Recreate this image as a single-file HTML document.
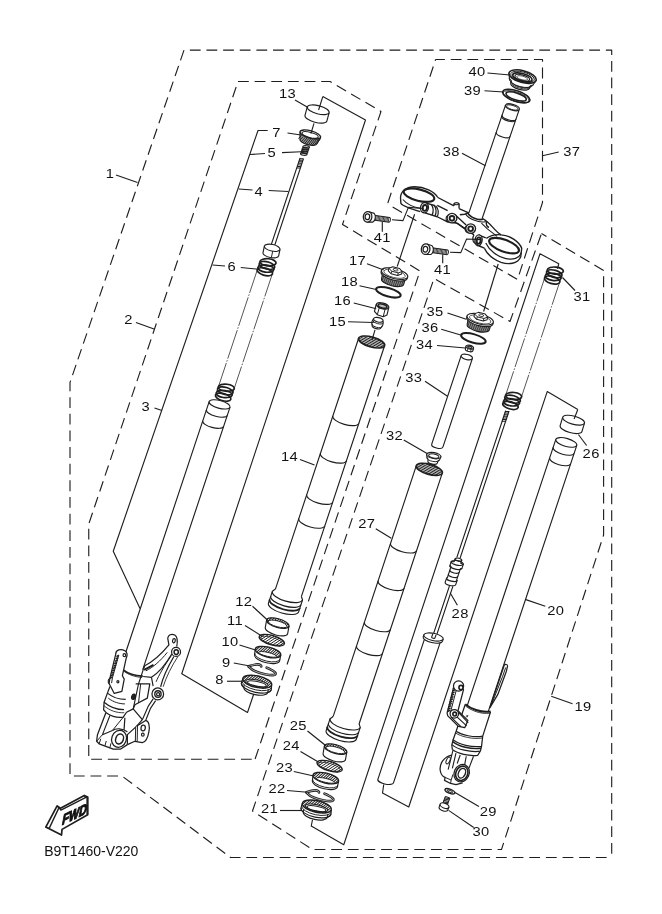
<!DOCTYPE html>
<html><head><meta charset="utf-8"><title>Front fork</title>
<style>
html,body{margin:0;padding:0;background:#fff;}
body{width:662px;height:914px;overflow:hidden;}
svg{display:block;will-change:transform;}
.t{font-family:"Liberation Sans",sans-serif;fill:#111;stroke:none;}
</style></head><body>
<svg width="662" height="914" viewBox="0 0 662 914">
<rect x="0" y="0" width="662" height="914" fill="#fff" stroke="none"/>
<g fill="none" stroke="#1e1e1e" stroke-linejoin="round" stroke-width="1.13">
<path d="M184,50.1 L611.7,50.1 L611.7,857.5" stroke-dasharray="10.8 5.84" stroke-dashoffset="10.8" stroke-width="1.13"/>
<path d="M184,50.1 L70,382.5 L70,776 L122,776 L230.5,857.5 L611.7,857.5" stroke-dasharray="10.8 5.84" stroke-dashoffset="0" stroke-width="1.13"/>
<path d="M238,81.5 L330,81.5 L381,111.5 L342.5,224.5 L420,271 L255,759.3" stroke-dasharray="10.8 5.84" stroke-dashoffset="0" stroke-width="1.13"/>
<path d="M238,81.5 L88.75,524 L88.75,759.3 L255,759.3" stroke-dasharray="10.8 5.84" stroke-dashoffset="10.8" stroke-width="1.13"/>
<path d="M435.6,59.5 L542.5,59.5 L542.5,202.5 L517.5,279.5 L387.5,204" stroke-dasharray="10.8 5.84" stroke-dashoffset="1.5" stroke-width="1.13"/>
<path d="M435.6,59.5 L387.5,204" stroke-dasharray="10.8 5.84" stroke-dashoffset="9.3" stroke-width="1.13"/>
<path d="M541.5,233.5 L603.6,270.4 L603.6,535 L501.5,849.5 L312.5,849.5 L252.5,811 L434,278.5 L510,321.5 Z" stroke-dasharray="10.8 5.84" stroke-dashoffset="5" stroke-width="1.13"/>
<path d="M322.8,96.6 L365.5,120 L181.75,673.75 L247.5,712.5 L253.75,694" stroke-width="1.13" />
<path d="M267.7,130.5 L258,130.5 L113.25,551.25 L140,608.5" stroke-width="1.13" />
<path d="M557.5,268.75 L558.75,263.75 L540,253.75 L343.75,844.75 L311.25,826 L312.5,819.75" stroke-width="1.13" />
<path d="M577.8,409.5 L547.2,391.6 L408.75,807 L382.5,793 L383.75,784.5" stroke-width="1.13" />
<g transform="translate(371.6 342.0) rotate(16) skewX(-2.35)"><path d="M-13.5,0 L-13.5,267 A13.5,5.0 0 0 0 13.5,267 L13.5,0" fill="#fff"/><ellipse cx="0" cy="0" rx="13.5" ry="5.0" stroke-width="1.69" fill="#fff"/><path d="M-4.47,-4.02 L8.79,-3.1 M-9.44,-2.87 L12.1,-1.36 M-11.9,-1.53 L12.9,0.2 M-12.87,-0.1 L12.21,1.66 M-12.4,1.44 L10.08,3.01 M-9.81,3.12 L5.82,4.22" stroke-width="0.9"/><path d="M-13.5,81.7 A13.5,5.0 0 0 0 13.5,81.7" stroke-width="1.13"/><path d="M-13.5,121.2 A13.5,5.0 0 0 0 13.5,121.2" stroke-width="1.13"/><path d="M-13.5,164.6 A13.5,5.0 0 0 0 13.5,164.6" stroke-width="1.13"/><path d="M-13.5,189.7 A13.5,5.0 0 0 0 13.5,189.7" stroke-width="1.13"/><path d="M-13.5,264 L-15.7,267 L-15.7,279.5 A15.7,5.814814814814815 0 0 0 15.7,279.5 L15.7,267 L13.5,264 Z" fill="#fff" stroke="none"/><path d="M-13.5,264 L-15.7,267 L-15.7,279.5 A15.7,5.814814814814815 0 0 0 15.7,279.5 L15.7,267 L13.5,264"/><path d="M-15.7,267 A15.7,5.814814814814815 0 0 0 15.7,267" stroke-width="1.13"/><path d="M-15.7,272 A15.7,5.814814814814815 0 0 0 15.7,272" stroke-width="1.13"/><path d="M-15.7,275.5 A15.7,5.814814814814815 0 0 0 15.7,275.5" stroke-width="1.81"/></g>
<g transform="translate(429.3 469.4) rotate(16) skewX(-2.35)"><path d="M-13.5,0 L-13.5,267 A13.5,5.0 0 0 0 13.5,267 L13.5,0" fill="#fff"/><ellipse cx="0" cy="0" rx="13.5" ry="5.0" stroke-width="1.69" fill="#fff"/><path d="M-4.47,-4.02 L8.79,-3.1 M-9.44,-2.87 L12.1,-1.36 M-11.9,-1.53 L12.9,0.2 M-12.87,-0.1 L12.21,1.66 M-12.4,1.44 L10.08,3.01 M-9.81,3.12 L5.82,4.22" stroke-width="0.9"/><path d="M-13.5,81.7 A13.5,5.0 0 0 0 13.5,81.7" stroke-width="1.13"/><path d="M-13.5,121.2 A13.5,5.0 0 0 0 13.5,121.2" stroke-width="1.13"/><path d="M-13.5,164.6 A13.5,5.0 0 0 0 13.5,164.6" stroke-width="1.13"/><path d="M-13.5,189.7 A13.5,5.0 0 0 0 13.5,189.7" stroke-width="1.13"/><path d="M-13.5,264 L-15.7,267 L-15.7,279.5 A15.7,5.814814814814815 0 0 0 15.7,279.5 L15.7,267 L13.5,264 Z" fill="#fff" stroke="none"/><path d="M-13.5,264 L-15.7,267 L-15.7,279.5 A15.7,5.814814814814815 0 0 0 15.7,279.5 L15.7,267 L13.5,264"/><path d="M-15.7,267 A15.7,5.814814814814815 0 0 0 15.7,267" stroke-width="1.13"/><path d="M-15.7,272 A15.7,5.814814814814815 0 0 0 15.7,272" stroke-width="1.13"/><path d="M-15.7,275.5 A15.7,5.814814814814815 0 0 0 15.7,275.5" stroke-width="1.81"/></g>
<g transform="translate(277.8 623.1) rotate(15) skewX(5)"><path d="M-11.6,0 L-11.6,7.6 A11.6,4.4 0 0 0 11.6,7.6 L11.6,0" fill="#fff"/><ellipse cx="0" cy="0" rx="11.6" ry="4.4" stroke-width="1.24" fill="#fff"/><path d="M-11.55,-0.42 L-10.58,-1.81 M-10.71,1.69 L-7.08,-3.48 M-9.11,2.72 L-4.35,-4.08 M-7.28,3.43 L-1.84,-4.34 M-5.3,3.91 L0.51,-4.4 M-3.21,4.23 L2.75,-4.27 M-0.99,4.38 L4.87,-3.99 M1.33,4.37 L6.88,-3.54 M3.8,4.16 L8.74,-2.89 M6.48,3.65 L10.4,-1.95 M9.64,2.45 L11.57,-0.31" stroke-width="0.96"/><ellipse cx="0" cy="0.8" rx="9.6" ry="2.9000000000000004" stroke-width="0.9" fill="#fff"/></g>
<g transform="translate(271.8 640.2) rotate(16.5)"><ellipse cx="0" cy="0" rx="13.1" ry="4.7" stroke-width="1.36" fill="#fff"/><path d="M-12.52,1.38 L-8.31,-3.63 M-10.74,2.69 L-4.82,-4.37 M-8.59,3.55 L-1.7,-4.66 M-6.21,4.14 L1.19,-4.68 M-3.66,4.51 L3.9,-4.49 M-0.93,4.69 L6.44,-4.09 M1.98,4.65 L8.8,-3.48 M5.12,4.33 L10.92,-2.59 M8.66,3.53 L12.65,-1.23" stroke-width="0.9"/><ellipse cx="0" cy="0.6" rx="11.2" ry="3.4" stroke-width="0.68" fill="none"/></g>
<g transform="translate(268.0 652.1) rotate(13) skewX(4)"><path d="M-13.1,0 L-12.9,5.6 A12.9,5.2 0 0 0 12.9,5.6 L13.1,0" fill="#fff"/><ellipse cx="0" cy="0" rx="13.1" ry="5.0" stroke-width="1.36" fill="#fff"/><path d="M-12.64,1.32 L-8.87,-3.68 M-11.21,2.58 L-5.9,-4.46 M-9.49,3.45 L-3.24,-4.85 M-7.58,4.08 L-0.75,-4.99 M-5.54,4.53 L1.61,-4.96 M-3.39,4.83 L3.85,-4.78 M-1.12,4.98 L5.98,-4.45 M1.26,4.98 L7.99,-3.96 M3.78,4.79 L9.87,-3.29 M6.49,4.34 L11.55,-2.36 M9.57,3.41 L12.86,-0.95" stroke-width="0.96"/><ellipse cx="0" cy="2.3" rx="9.2" ry="2.0" stroke-width="0.9" fill="#fff"/><path d="M-13.0,4.0 A13.0,5.1 0 0 0 13.0,4.0" stroke-width="0.9"/></g>
<path d="M248.6,666.3 C251.5,665.3 255.0,664.3 257.7,664.4 C260.0,664.5 261.5,665.3 261.2,666.4" stroke-width="2.6" stroke-linecap="round"/>
<path d="M249.0,666.8 C251.0,669.0 253.5,670.6 255.9,671.5 C259.0,672.8 262.0,673.6 264.9,674.2 C268.0,674.8 271.5,675.3 274.0,675.0 C276.0,674.6 276.0,673.4 275.0,672.4 C273.8,671.2 272.5,670.4 271.3,669.8 C270.0,669.1 268.5,668.3 266.7,667.7" stroke-width="2.6" stroke-linecap="round"/>
<path d="M248.6,666.3 C251.5,665.3 255.0,664.3 257.7,664.4 C260.0,664.5 261.5,665.3 261.2,666.4" stroke-width="0.62" stroke="#fff" stroke-linecap="round"/>
<path d="M249.0,666.8 C251.0,669.0 253.5,670.6 255.9,671.5 C259.0,672.8 262.0,673.6 264.9,674.2 C268.0,674.8 271.5,675.3 274.0,675.0 C276.0,674.6 276.0,673.4 275.0,672.4 C273.8,671.2 272.5,670.4 271.3,669.8 C270.0,669.1 268.5,668.3 266.7,667.7" stroke-width="0.62" stroke="#fff" stroke-linecap="round"/>
<g transform="translate(257.2 681.7) rotate(12) skewX(2)"><path d="M-14.8,0 L-15.3,4.6 A15.3,6.2 0 0 0 15.3,4.6 L14.8,0" fill="#fff"/><path d="M-12.3,5.5 L-12.3,8.3 A12.3,4.8 0 0 0 12.3,8.3 L12.3,5.5" fill="#fff"/><path d="M-15.3,4.6 A15.3,6.2 0 0 0 15.3,4.6" stroke-width="1.13"/><ellipse cx="0" cy="0" rx="14.8" ry="5.8" stroke-width="1.36" fill="#fff"/><path d="M-14.63,0.86 L-10.89,-3.93 M-13.44,2.43 L-7.67,-4.96 M-11.85,3.47 L-4.86,-5.48 M-10.05,4.26 L-2.25,-5.73 M-8.11,4.85 L0.22,-5.8 M-6.04,5.29 L2.56,-5.71 M-3.87,5.6 L4.79,-5.49 M-1.59,5.77 L6.92,-5.13 M0.81,5.79 L8.94,-4.62 M3.33,5.65 L10.83,-3.95 M6.01,5.3 L12.55,-3.07 M8.96,4.62 L14.02,-1.86 M12.59,3.05 L14.79,0.24" stroke-width="0.96"/><ellipse cx="0" cy="1.6" rx="11.4" ry="3.3" stroke-width="1.02" fill="#fff"/><ellipse cx="0" cy="2.1" rx="9.6" ry="2.3" stroke-width="1.13" fill="none"/><path d="M-15.1,2.3 A15.1,6.0 0 0 0 15.1,2.3" stroke-width="0.9"/></g>
<g transform="translate(335.6 749.1) rotate(15) skewX(5)"><path d="M-11.6,0 L-11.6,7.6 A11.6,4.4 0 0 0 11.6,7.6 L11.6,0" fill="#fff"/><ellipse cx="0" cy="0" rx="11.6" ry="4.4" stroke-width="1.24" fill="#fff"/><path d="M-11.55,-0.42 L-10.58,-1.81 M-10.71,1.69 L-7.08,-3.48 M-9.11,2.72 L-4.35,-4.08 M-7.28,3.43 L-1.84,-4.34 M-5.3,3.91 L0.51,-4.4 M-3.21,4.23 L2.75,-4.27 M-0.99,4.38 L4.87,-3.99 M1.33,4.37 L6.88,-3.54 M3.8,4.16 L8.74,-2.89 M6.48,3.65 L10.4,-1.95 M9.64,2.45 L11.57,-0.31" stroke-width="0.96"/><ellipse cx="0" cy="0.8" rx="9.6" ry="2.9000000000000004" stroke-width="0.9" fill="#fff"/></g>
<g transform="translate(329.6 766.2) rotate(16.5)"><ellipse cx="0" cy="0" rx="13.1" ry="4.7" stroke-width="1.36" fill="#fff"/><path d="M-12.52,1.38 L-8.31,-3.63 M-10.74,2.69 L-4.82,-4.37 M-8.59,3.55 L-1.7,-4.66 M-6.21,4.14 L1.19,-4.68 M-3.66,4.51 L3.9,-4.49 M-0.93,4.69 L6.44,-4.09 M1.98,4.65 L8.8,-3.48 M5.12,4.33 L10.92,-2.59 M8.66,3.53 L12.65,-1.23" stroke-width="0.9"/><ellipse cx="0" cy="0.6" rx="11.2" ry="3.4" stroke-width="0.68" fill="none"/></g>
<g transform="translate(325.8 778.1) rotate(13) skewX(4)"><path d="M-13.1,0 L-12.9,5.6 A12.9,5.2 0 0 0 12.9,5.6 L13.1,0" fill="#fff"/><ellipse cx="0" cy="0" rx="13.1" ry="5.0" stroke-width="1.36" fill="#fff"/><path d="M-12.64,1.32 L-8.87,-3.68 M-11.21,2.58 L-5.9,-4.46 M-9.49,3.45 L-3.24,-4.85 M-7.58,4.08 L-0.75,-4.99 M-5.54,4.53 L1.61,-4.96 M-3.39,4.83 L3.85,-4.78 M-1.12,4.98 L5.98,-4.45 M1.26,4.98 L7.99,-3.96 M3.78,4.79 L9.87,-3.29 M6.49,4.34 L11.55,-2.36 M9.57,3.41 L12.86,-0.95" stroke-width="0.96"/><ellipse cx="0" cy="2.3" rx="9.2" ry="2.0" stroke-width="0.9" fill="#fff"/><path d="M-13.0,4.0 A13.0,5.1 0 0 0 13.0,4.0" stroke-width="0.9"/></g>
<path d="M306.4,792.3 C309.3,791.3 312.8,790.3 315.5,790.4 C317.8,790.5 319.3,791.3 319.0,792.4" stroke-width="2.6" stroke-linecap="round"/>
<path d="M306.8,792.8 C308.8,795.0 311.3,796.6 313.7,797.5 C316.8,798.8 319.8,799.6 322.7,800.2 C325.8,800.8 329.3,801.3 331.8,801.0 C333.8,800.6 333.8,799.4 332.8,798.4 C331.6,797.2 330.3,796.4 329.1,795.8 C327.8,795.1 326.3,794.3 324.5,793.7" stroke-width="2.6" stroke-linecap="round"/>
<path d="M306.4,792.3 C309.3,791.3 312.8,790.3 315.5,790.4 C317.8,790.5 319.3,791.3 319.0,792.4" stroke-width="0.62" stroke="#fff" stroke-linecap="round"/>
<path d="M306.8,792.8 C308.8,795.0 311.3,796.6 313.7,797.5 C316.8,798.8 319.8,799.6 322.7,800.2 C325.8,800.8 329.3,801.3 331.8,801.0 C333.8,800.6 333.8,799.4 332.8,798.4 C331.6,797.2 330.3,796.4 329.1,795.8 C327.8,795.1 326.3,794.3 324.5,793.7" stroke-width="0.62" stroke="#fff" stroke-linecap="round"/>
<g transform="translate(316.8 806.5) rotate(12) skewX(2)"><path d="M-14.8,0 L-15.3,4.6 A15.3,6.2 0 0 0 15.3,4.6 L14.8,0" fill="#fff"/><path d="M-12.3,5.5 L-12.3,8.3 A12.3,4.8 0 0 0 12.3,8.3 L12.3,5.5" fill="#fff"/><path d="M-15.3,4.6 A15.3,6.2 0 0 0 15.3,4.6" stroke-width="1.13"/><ellipse cx="0" cy="0" rx="14.8" ry="5.8" stroke-width="1.36" fill="#fff"/><path d="M-14.63,0.86 L-10.89,-3.93 M-13.44,2.43 L-7.67,-4.96 M-11.85,3.47 L-4.86,-5.48 M-10.05,4.26 L-2.25,-5.73 M-8.11,4.85 L0.22,-5.8 M-6.04,5.29 L2.56,-5.71 M-3.87,5.6 L4.79,-5.49 M-1.59,5.77 L6.92,-5.13 M0.81,5.79 L8.94,-4.62 M3.33,5.65 L10.83,-3.95 M6.01,5.3 L12.55,-3.07 M8.96,4.62 L14.02,-1.86 M12.59,3.05 L14.79,0.24" stroke-width="0.96"/><ellipse cx="0" cy="1.6" rx="11.4" ry="3.3" stroke-width="1.02" fill="#fff"/><ellipse cx="0" cy="2.1" rx="9.6" ry="2.3" stroke-width="1.13" fill="none"/><path d="M-15.1,2.3 A15.1,6.0 0 0 0 15.1,2.3" stroke-width="0.9"/></g>
<g transform="translate(318.2 109.8) rotate(14.6) skewX(-0.4)"><path d="M-11.3,0 L-11.3,8.8 A11.3,4.1 0 0 0 11.3,8.8 L11.3,0" fill="#fff" stroke-width="1.13"/><ellipse cx="0" cy="0" rx="11.3" ry="4.1" stroke-width="1.13" fill="#fff"/></g>
<path d="M318.6,110 L322.8,96.6" stroke-width="1.13" />
<g transform="translate(573.6 420.2) rotate(15.5) skewX(-1.5)"><path d="M-11.3,0 L-11.3,8.8 A11.3,4.1 0 0 0 11.3,8.8 L11.3,0" fill="#fff" stroke-width="1.13"/><ellipse cx="0" cy="0" rx="11.3" ry="4.1" stroke-width="1.13" fill="#fff"/></g>
<path d="M574.1,419 L577.8,409.5" stroke-width="1.13" />
<g transform="translate(310.3 134.5) rotate(15.6)"><path d="M-10.6,0 L-8.8,7.2 A8.8,3.3 0 0 0 8.8,7.2 L10.6,0" fill="#9a9a9a"/><path d="M-8.0,3.230571751412325 L-10.4,7.0" stroke-width="0.9"/><path d="M-6.1,3.7805937627048847 L-8.5,7.828420781810512" stroke-width="0.9"/><path d="M-4.199999999999999,4.121719638190784 L-6.6,9.116601048851672" stroke-width="0.9"/><path d="M-2.3,4.318997712716405 L-4.7,9.70536656748449" stroke-width="0.9"/><path d="M-0.3999999999999999,4.397578347271111 L-2.8,10.033695071216613" stroke-width="0.9"/><path d="M1.5,4.365785484244695 L-0.9,10.183220470213062" stroke-width="0.9"/><path d="M3.4,4.220351800244366 L0.9999999999999999,10.179271708275548" stroke-width="0.9"/><path d="M5.3,3.9444863728670914 L2.9,10.021247074354815" stroke-width="0.9"/><path d="M7.199999999999999,3.495298534031731 L4.799999999999999,9.682049296667023" stroke-width="0.9"/><path d="M9.1,2.743619809235902 L6.699999999999999,9.074640265541223" stroke-width="0.9"/><path d="M11.0,1.0 L8.6,7.678354840224642" stroke-width="0.9"/><ellipse cx="0" cy="0" rx="10.6" ry="3.7" stroke-width="1.36" fill="#fff"/><ellipse cx="0" cy="0.5" rx="8.4" ry="2.6" stroke-width="1.02" fill="none"/></g>
<path d="M314,123.3 L310.9,133.6" stroke-width="1.13" />
<g transform="translate(306.4 146.2) rotate(13) skewX(-5.4)"><rect x="-3.3" y="0" width="6.6" height="8.8" fill="#fff" stroke="none"/><ellipse cx="0" cy="0.8" rx="3.3" ry="1.3" stroke-width="1.13" transform="rotate(-6 0 0.8)"/><ellipse cx="0" cy="2.6500000000000004" rx="3.3" ry="1.3" stroke-width="1.13" transform="rotate(-6 0 2.6500000000000004)"/><ellipse cx="0" cy="4.5" rx="3.3" ry="1.3" stroke-width="1.13" transform="rotate(-6 0 4.5)"/><ellipse cx="0" cy="6.3500000000000005" rx="3.3" ry="1.3" stroke-width="1.13" transform="rotate(-6 0 6.3500000000000005)"/><ellipse cx="0" cy="8.200000000000001" rx="3.3" ry="1.3" stroke-width="1.13" transform="rotate(-6 0 8.200000000000001)"/></g>
<g transform="translate(301.8 158.3) rotate(13) skewX(-5.4)"><path d="M-1.75,0 L-1.75,93 M1.75,0 L1.75,93" /><path d="M-1.7,0.8999999999999999 L1.7,0.09999999999999998" stroke-width="1.02"/><path d="M-1.7,2.5 L1.7,1.7000000000000002" stroke-width="1.02"/><path d="M-1.7,4.1 L1.7,3.3" stroke-width="1.02"/><path d="M-1.7,5.7 L1.7,4.9" stroke-width="1.02"/><path d="M-1.7,7.3 L1.7,6.5" stroke-width="1.02"/><path d="M-1.7,8.9 L1.7,8.100000000000001" stroke-width="1.02"/><path d="M-1.7,10.500000000000002 L1.7,9.700000000000003" stroke-width="1.02"/></g>
<g transform="translate(272.2 247.8) rotate(12)"><path d="M-8,0 L-8,6.6 A8,3.3 0 0 0 8,6.6 L8,0" fill="#fff"/><ellipse cx="0" cy="0" rx="8" ry="3.3" stroke-width="1.13" fill="#fff"/><path d="M1.2,3.2 L1.2,9.6" stroke-width="0.9"/></g>
<g transform="translate(268.0 262.3) rotate(13) skewX(-5.4)"><path d="M-7.8,0 L-7.8,141.5 L7.8,141.5 L7.8,0 Z" fill="#fff" stroke="none"/><path d="M-7.8,4 L-7.8,137.5 M7.8,4 L7.8,137.5" stroke-width="0.68" stroke-dasharray="30 1.5 1.5 1.5"/><g><ellipse cx="0" cy="0.0" rx="8.0" ry="3.6" stroke-width="1.69" transform="rotate(-7 0 0.0)"/><ellipse cx="0" cy="3.3" rx="8.0" ry="3.6" stroke-width="1.69" transform="rotate(3 0 3.3)"/><ellipse cx="0" cy="6.6" rx="8.0" ry="3.6" stroke-width="1.69" transform="rotate(-5 0 6.6)"/><ellipse cx="0" cy="9.899999999999999" rx="8.0" ry="3.6" stroke-width="1.69" transform="rotate(4 0 9.899999999999999)"/></g><g transform="translate(0 131.6)"><ellipse cx="0" cy="0.0" rx="8.0" ry="3.6" stroke-width="1.69" transform="rotate(-7 0 0.0)"/><ellipse cx="0" cy="3.3" rx="8.0" ry="3.6" stroke-width="1.69" transform="rotate(3 0 3.3)"/><ellipse cx="0" cy="6.6" rx="8.0" ry="3.6" stroke-width="1.69" transform="rotate(-5 0 6.6)"/><ellipse cx="0" cy="9.899999999999999" rx="8.0" ry="3.6" stroke-width="1.69" transform="rotate(4 0 9.899999999999999)"/></g></g>
<g transform="translate(555.3 270.6) rotate(13) skewX(-5.4)"><path d="M-7.8,0 L-7.8,141.5 L7.8,141.5 L7.8,0 Z" fill="#fff" stroke="none"/><path d="M-7.8,4 L-7.8,137.5 M7.8,4 L7.8,137.5" stroke-width="0.68" stroke-dasharray="30 1.5 1.5 1.5"/><g><ellipse cx="0" cy="0.0" rx="8.0" ry="3.6" stroke-width="1.69" transform="rotate(-7 0 0.0)"/><ellipse cx="0" cy="3.3" rx="8.0" ry="3.6" stroke-width="1.69" transform="rotate(3 0 3.3)"/><ellipse cx="0" cy="6.6" rx="8.0" ry="3.6" stroke-width="1.69" transform="rotate(-5 0 6.6)"/><ellipse cx="0" cy="9.899999999999999" rx="8.0" ry="3.6" stroke-width="1.69" transform="rotate(4 0 9.899999999999999)"/></g><g transform="translate(0 131.6)"><ellipse cx="0" cy="0.0" rx="8.0" ry="3.6" stroke-width="1.69" transform="rotate(-7 0 0.0)"/><ellipse cx="0" cy="3.3" rx="8.0" ry="3.6" stroke-width="1.69" transform="rotate(3 0 3.3)"/><ellipse cx="0" cy="6.6" rx="8.0" ry="3.6" stroke-width="1.69" transform="rotate(-5 0 6.6)"/><ellipse cx="0" cy="9.899999999999999" rx="8.0" ry="3.6" stroke-width="1.69" transform="rotate(4 0 9.899999999999999)"/></g></g>
<g transform="translate(219.6 404.4) rotate(15) skewX(-3.4)"><path d="M-10.8,0 L-10.8,290 A10.8,3.9 0 0 0 10.8,290 L10.8,0" fill="#fff"/><ellipse cx="0" cy="0" rx="10.8" ry="3.9" stroke-width="1.13" fill="#fff"/><path d="M-10.8,8.6 A10.8,3.9 0 0 0 10.8,8.6" stroke-width="1.13"/><path d="M-10.8,20.3 A10.8,3.9 0 0 0 10.8,20.3" stroke-width="1.13"/></g>
<g transform="translate(566.3 442.4) rotate(16) skewX(-2.4)"><path d="M-10.9,0 L-10.9,284 A10.9,4 0 0 0 10.9,284 L10.9,0" fill="#fff"/><ellipse cx="0" cy="0" rx="10.9" ry="4" stroke-width="1.13" fill="#fff"/><path d="M-10.9,8.4 A10.9,4 0 0 0 10.9,8.4" stroke-width="1.13"/><path d="M-10.9,19.5 A10.9,4 0 0 0 10.9,19.5" stroke-width="1.13"/></g>
<g transform="translate(394.6 273.6) rotate(14)"><path d="M-11.8,1 L-11.4,8.2 A11.4,4.3 0 0 0 11.4,8.2 L11.8,1 Z" fill="#8a8a8a" stroke-width="1.13"/><path d="M-9.5,3 L-10.5,10.120551885390036" stroke-width="0.68"/><path d="M-7.5,3 L-8.5,11.049675860245186" stroke-width="0.68"/><path d="M-5.5,3 L-6.5,11.601156720295474" stroke-width="0.68"/><path d="M-3.5,3 L-4.5,11.945685935461759" stroke-width="0.68"/><path d="M-1.5,3 L-2.5,12.137961500799495" stroke-width="0.68"/><path d="M0.5,3 L-0.5,12.2" stroke-width="0.68"/><path d="M2.5,3 L1.5,12.137961500799495" stroke-width="0.68"/><path d="M4.5,3 L3.5,11.945685935461759" stroke-width="0.68"/><path d="M6.5,3 L5.5,11.601156720295474" stroke-width="0.68"/><path d="M8.5,3 L7.5,11.049675860245186" stroke-width="0.68"/><path d="M10.5,3 L9.5,10.120551885390036" stroke-width="0.68"/><path d="M-13.5,0 L-13.5,1.6 A13.5,5 0 0 0 13.5,1.6 L13.5,0 Z" fill="#fff"/><ellipse cx="0" cy="0" rx="13.5" ry="5" stroke-width="1.13" fill="#fff"/><ellipse cx="0" cy="0.2" rx="11" ry="3.8" stroke-width="0.68" fill="none"/><path d="M-6.8,-1.2 L-6.8,-3.8 L-3.4,-6.2 L3.6,-6.2 L6.8,-3.8 L6.8,-1.2 L3.4,1.0 L-3.4,1.0 Z" fill="#fff" stroke-width="1.02"/><path d="M-6.8,-3.8 L-3.4,-1.6 L3.4,-1.6 L6.8,-3.8 M-3.4,-1.6 L-3.4,1 M3.4,-1.6 L3.4,1" stroke-width="0.9"/><ellipse cx="0" cy="-4" rx="2.6" ry="1.1" stroke-width="0.79" fill="none"/></g>
<g transform="translate(480.2 319.2) rotate(14)"><path d="M-11.8,1 L-11.4,8.2 A11.4,4.3 0 0 0 11.4,8.2 L11.8,1 Z" fill="#8a8a8a" stroke-width="1.13"/><path d="M-9.5,3 L-10.5,10.120551885390036" stroke-width="0.68"/><path d="M-7.5,3 L-8.5,11.049675860245186" stroke-width="0.68"/><path d="M-5.5,3 L-6.5,11.601156720295474" stroke-width="0.68"/><path d="M-3.5,3 L-4.5,11.945685935461759" stroke-width="0.68"/><path d="M-1.5,3 L-2.5,12.137961500799495" stroke-width="0.68"/><path d="M0.5,3 L-0.5,12.2" stroke-width="0.68"/><path d="M2.5,3 L1.5,12.137961500799495" stroke-width="0.68"/><path d="M4.5,3 L3.5,11.945685935461759" stroke-width="0.68"/><path d="M6.5,3 L5.5,11.601156720295474" stroke-width="0.68"/><path d="M8.5,3 L7.5,11.049675860245186" stroke-width="0.68"/><path d="M10.5,3 L9.5,10.120551885390036" stroke-width="0.68"/><path d="M-13.5,0 L-13.5,1.6 A13.5,5 0 0 0 13.5,1.6 L13.5,0 Z" fill="#fff"/><ellipse cx="0" cy="0" rx="13.5" ry="5" stroke-width="1.13" fill="#fff"/><ellipse cx="0" cy="0.2" rx="11" ry="3.8" stroke-width="0.68" fill="none"/><path d="M-6.8,-1.2 L-6.8,-3.8 L-3.4,-6.2 L3.6,-6.2 L6.8,-3.8 L6.8,-1.2 L3.4,1.0 L-3.4,1.0 Z" fill="#fff" stroke-width="1.02"/><path d="M-6.8,-3.8 L-3.4,-1.6 L3.4,-1.6 L6.8,-3.8 M-3.4,-1.6 L-3.4,1 M3.4,-1.6 L3.4,1" stroke-width="0.9"/><ellipse cx="0" cy="-4" rx="2.6" ry="1.1" stroke-width="0.79" fill="none"/></g>
<path d="M414.6,214.2 L397.2,266.5" stroke-width="1.13" />
<path d="M498.2,264 L483.6,311.5" stroke-width="1.13" />
<g transform="translate(388.4 292.3) rotate(15.8)"><ellipse cx="0" cy="0" rx="12.7" ry="4.2" stroke-width="2.03" fill="none"/></g>
<g transform="translate(473.4 338.4) rotate(15.8)"><ellipse cx="0" cy="0" rx="12.7" ry="4.2" stroke-width="2.03" fill="none"/></g>
<g transform="translate(382.6 305.9) rotate(14)"><path d="M-6.6,0.2 L-6.6,7.2 L-3,9.8 L3.2,10.4 L6.4,7.8 L6.4,0.4 Z" fill="#fff"/><path d="M-2.8,2.7 L-3,9.8 M3.2,2.9 L3.2,10.4" stroke-width="0.9"/><ellipse cx="0" cy="0" rx="6.4" ry="2.9" stroke-width="1.13" fill="#fff"/><ellipse cx="0" cy="0.2" rx="4.6" ry="1.9" stroke-width="1.58" fill="#bbb"/></g>
<g transform="translate(378.3 319.8) rotate(14)"><path d="M-4.8,0 C-5.8,2 -5.8,5 -4.6,7 A4.6,2.1 0 0 0 4.6,7 C5.8,5 5.8,2 4.8,0 Z" fill="#fff"/><ellipse cx="0" cy="0" rx="4.8" ry="2.2" stroke-width="1.13" fill="#fff"/><path d="M-5.2,1.6 A5.2,2.3 0 0 0 5.2,1.6" stroke-width="0.9"/><path d="M-5.1,5.4 A5.1,2.3 0 0 0 5.1,5.4" stroke-width="0.9"/></g>
<path d="M375,329.8 L372,340" stroke-width="1.13" />
<g transform="translate(469.8 347.2) rotate(14)"><path d="M-3.9,0 L-3.9,2.6 A3.9,1.9 0 0 0 3.9,2.6 L3.9,0 Z" fill="#fff"/><ellipse cx="0" cy="0" rx="3.9" ry="1.9" stroke-width="1.13" fill="#fff"/><ellipse cx="0" cy="0.1" rx="2.2" ry="1.0" stroke-width="1.13" fill="#aaa"/><path d="M-1.5,1.8 L-1.5,4.3 M1.8,1.8 L1.8,4.3" stroke-width="0.79"/></g>
<g transform="translate(466.8 357) rotate(14) skewX(-4.4)"><path d="M-5.8,0 L-5.8,93 A5.8,2.6 0 0 0 5.8,93 L5.8,0" fill="#fff"/><ellipse cx="0" cy="0" rx="5.8" ry="2.6" stroke-width="1.13" fill="#fff"/></g>
<g transform="translate(433.8 455.6) rotate(10)"><path d="M-7.2,0 L-6.4,3.2 L-5,4.6 L-4.8,6.6 A4.8,2 0 0 0 4.8,6.6 L5,4.6 L6.4,3.2 L7.2,0 Z" fill="#fff"/><ellipse cx="0" cy="0" rx="7.2" ry="3.0" stroke-width="1.13" fill="#fff"/><ellipse cx="0" cy="0.4" rx="5.2" ry="2" stroke-width="1.02" fill="none"/><path d="M-6.4,3.2 A6.4,2.7 0 0 0 6.4,3.2" stroke-width="0.9"/></g>
<g transform="translate(512.4 107.3) rotate(17) skewX(-1.8)"><path d="M-7.2,0 L-7.2,116 A7.2,2.9 0 0 0 7.2,116 L7.2,0" fill="#fff"/><ellipse cx="0" cy="0" rx="7.2" ry="2.9" stroke-width="1.13" fill="#fff"/><ellipse cx="0" cy="0.2" rx="6.0" ry="2.1" stroke-width="0.9" fill="none"/><path d="M-7.2,10.2 A7.2,2.9 0 0 0 7.2,10.2" stroke-width="1.13"/><path d="M-7.2,11.4 A7.2,2.9 0 0 0 7.2,11.4" stroke-width="1.13"/><path d="M-7.2,28.4 A7.2,2.9 0 0 0 7.2,28.4" stroke-width="1.13"/></g>
<g transform="translate(516.3 96) rotate(18)"><ellipse cx="0" cy="0" rx="14.2" ry="5.3" stroke-width="1.58" fill="#fff"/><ellipse cx="0" cy="0.5" rx="10.6" ry="3.5" stroke-width="1.58" fill="none"/><ellipse cx="0" cy="0.9" rx="13.6" ry="4.8" stroke-width="0.79" fill="none"/></g>
<g transform="translate(522.6 76.6) rotate(15)"><path d="M-14,0 L-12.2,5.4 L-10,6.8 L-9.8,9.4 A9.8,3.8 0 0 0 9.8,9.4 L10,6.8 L12.2,5.4 L14,0 Z" fill="#fff"/><path d="M-12.4,5.2 A12.4,5.1 0 0 0 12.4,5.2" stroke-width="0.9"/><path d="M-10.1,6.8 A10.1,4.0 0 0 0 10.1,6.8" stroke-width="0.9"/><path d="M-10.0,8.0 A10.0,3.9 0 0 0 10.0,8.0" stroke-width="0.79"/><ellipse cx="0" cy="0" rx="14" ry="5.9" stroke-width="1.58" fill="#fff"/><ellipse cx="0" cy="0.3" rx="12.2" ry="4.9" stroke-width="0.9" fill="none"/><ellipse cx="0" cy="0.8" rx="10.0" ry="3.8" stroke-width="1.69" fill="none"/><ellipse cx="0" cy="1.2" rx="7.6" ry="2.7" stroke-width="1.13" fill="none"/><ellipse cx="0" cy="1.4" rx="5.6" ry="1.8" stroke-width="0.68" fill="none"/></g>
<path d="M 400.5,197.5 C 400.89,190.63 406.79,186.7 414.65,186.7 C 424.47,186.7 434.29,191.61 437.83,197.5 L 453.94,205.95 L 453.94,203.4 L 459.05,203.4 L 459.05,208.51 L 468.67,212.83 L 483.41,219.12 C 489.3,221.47 495.2,231.89 501.09,234.83 C 510.91,235.23 519.75,242.69 521.72,248.19 L 520.74,256.84 C 517.79,264.3 507.97,264.7 501.09,262.34 C 493.23,259.39 487.34,254.48 484.39,248.19 L 481.44,247.01 L 474.57,243.08 L 473.98,234.83 L 462.78,227.37 L 457.87,223.44 L 446.47,221.47 L 437.24,216.76 L 428.4,217.15 L 420.15,212.04 C 408.75,208.31 402.86,206.35 400.89,203.4 Z" stroke-width="0" fill="#fff"/>
<path d="M 437.83,197.5 C 434.29,191.61 424.47,186.7 414.65,186.7 C 406.79,186.7 400.89,190.63 400.5,197.5 L 400.89,203.4 C 402.86,206.35 408.75,208.31 420.15,211.65" stroke-width="1.36" fill="none"/>
<ellipse cx="418.97" cy="195.15" rx="15.72" ry="5.7" transform="rotate(14 418.97 195.15)" stroke-width="2.17" fill="#fff"/>
<path d="M 402.86,199.47 C 406.79,204.38 414.65,207.33 421.52,208.51" stroke-width="1.08" fill="none"/>
<path d="M 424.47,202.61 L 435.28,205.76 M 424.86,212.83 L 437.24,216.76" stroke-width="1.36" fill="none"/>
<ellipse cx="424.47" cy="207.72" rx="3.93" ry="5.11" transform="rotate(8 424.47 207.72)" stroke-width="1.36" fill="#fff"/>
<ellipse cx="424.86" cy="207.92" rx="2.16" ry="2.95" transform="rotate(8 424.86 207.92)" stroke-width="1.9" fill="#fff"/>
<path d="M 431.35,204.58 C 433.51,207.33 433.9,212.24 431.94,215.19 M 434.29,205.56 C 436.45,208.31 436.65,213.22 434.88,215.97 M 435.86,205.95 C 438.61,209.29 438.61,213.61 437.24,216.76" stroke-width="1.22" fill="none"/>
<path d="M 437.83,197.5 L 453.94,205.95 M 459.05,208.51 L 468.67,212.83" stroke-width="1.36" fill="none"/>
<path d="M 437.24,205.36 L 447.65,210.67 M 455.9,215.58 L 466.12,225.01 M 453.94,221.47 L 465.73,228.94" stroke-width="1.36" fill="none"/>
<path d="M 437.24,216.76 L 446.47,221.47 L 457.87,223.44 L 462.78,227.37 L 473.98,234.83" stroke-width="1.36" fill="none"/>
<path d="M 453.94,205.95 L 453.94,203.79 C 454.72,202.22 458.26,202.22 459.05,203.79 L 459.05,208.51" stroke-width="1.36" fill="#fff"/>
<path d="M 453.94,203.79 C 455.12,204.97 457.87,204.97 459.05,203.79" stroke-width="1.08" fill="none"/>
<ellipse cx="451.97" cy="218.13" rx="4.91" ry="4.72" transform="rotate(0 451.97 218.13)" stroke-width="1.36" fill="#fff"/>
<ellipse cx="451.97" cy="218.33" rx="2.36" ry="2.36" transform="rotate(0 451.97 218.33)" stroke-width="1.9" fill="#fff"/>
<ellipse cx="470.64" cy="228.55" rx="4.91" ry="4.72" transform="rotate(0 470.64 228.55)" stroke-width="1.36" fill="#fff"/>
<ellipse cx="470.64" cy="228.74" rx="2.36" ry="2.36" transform="rotate(0 470.64 228.74)" stroke-width="1.9" fill="#fff"/>
<path d="M 447.65,215.58 C 445.1,217.15 445.69,221.47 448.44,222.26 M 466.12,226.19 C 464.16,228.15 464.94,231.69 467.69,232.87" stroke-width="1.08" fill="none"/>
<path d="M 467.3,212.04 C 469.66,217.15 478.5,221.47 483.8,218.72" stroke-width="1.63" fill="none"/>
<path d="M 465.33,213.61 C 468.67,219.12 479.48,223.44 485.77,221.47" stroke-width="1.08" fill="none"/>
<path d="M 468.67,212.83 L 464.74,214.2 L 459.83,214.79 M 483.41,219.12 C 489.3,221.47 495.2,231.89 501.09,234.83" stroke-width="1.36" fill="none"/>
<path d="M 486.55,221.47 C 485.77,224.03 486.94,226.58 488.91,227.37" stroke-width="1.63" fill="none"/>
<path d="M 481.44,223.05 L 487.34,228.94 L 497.16,236.4" stroke-width="1.08" fill="none"/>
<path d="M 478.5,234.83 L 485.77,237.78 M 479.09,245.83 L 484.39,248.19" stroke-width="1.36" fill="none"/>
<ellipse cx="478.5" cy="240.33" rx="3.54" ry="5.5" transform="rotate(8 478.5 240.33)" stroke-width="1.36" fill="#fff"/>
<ellipse cx="478.69" cy="240.53" rx="1.96" ry="3.14" transform="rotate(8 478.69 240.53)" stroke-width="1.9" fill="#fff"/>
<path d="M 473.98,234.83 C 472.01,237.78 472.6,241.71 474.57,243.08 M 481.44,247.01 L 474.57,243.08" stroke-width="1.22" fill="none"/>
<path d="M 486.36,238.37 C 491.27,234.83 497.16,234.44 501.09,234.83 C 510.91,235.23 519.75,242.69 521.72,248.19 L 520.74,256.84 C 517.79,264.3 507.97,264.7 501.09,262.34 C 493.23,259.39 487.34,254.48 484.39,248.19" stroke-width="1.36" fill="none"/>
<path d="M 485.77,243.08 C 489.3,250.55 497.16,256.44 505.02,258.41 C 512.88,260.37 519.75,258.41 521.33,252.51" stroke-width="1.22" fill="none"/>
<ellipse cx="504.04" cy="245.64" rx="15.72" ry="5.89" transform="rotate(20 504.04 245.64)" stroke-width="2.17" fill="#fff"/>
<g transform="translate(367.6 216.8) rotate(8)"><path d="M6,-2.4 L22,-2.4 C23.4,-1.5 23.4,1.5 22,2.4 L6,2.4 Z" fill="#fff" stroke-width="1.02"/><path d="M8.2,-2.4 L8.2,2.4" stroke-width="0.79"/><path d="M9.5,-2.4 L9.5,2.4" stroke-width="0.79"/><path d="M10.799999999999999,-2.4 L10.799999999999999,2.4" stroke-width="0.79"/><path d="M12.1,-2.4 L12.1,2.4" stroke-width="0.79"/><path d="M13.399999999999999,-2.4 L13.399999999999999,2.4" stroke-width="0.79"/><path d="M14.7,-2.4 L14.7,2.4" stroke-width="0.79"/><path d="M16.0,-2.4 L16.0,2.4" stroke-width="0.79"/><path d="M17.299999999999997,-2.4 L17.299999999999997,2.4" stroke-width="0.79"/><path d="M18.6,-2.4 L18.6,2.4" stroke-width="0.79"/><path d="M19.9,-2.4 L19.9,2.4" stroke-width="0.79"/><path d="M21.2,-2.4 L21.2,2.4" stroke-width="0.79"/><path d="M0.8,-5.3 L6,-4.3 C8.4,-2.5 8.4,2.5 6,4.5 L0.8,5.3 Z" fill="#fff"/><ellipse cx="0" cy="0" rx="4.3" ry="5.3" fill="#fff" stroke-width="1.24"/><ellipse cx="-0.2" cy="0" rx="2.3" ry="2.9" fill="#fff" stroke-width="1.24"/></g>
<g transform="translate(425.6 249.2) rotate(8)"><path d="M6,-2.4 L22,-2.4 C23.4,-1.5 23.4,1.5 22,2.4 L6,2.4 Z" fill="#fff" stroke-width="1.02"/><path d="M8.2,-2.4 L8.2,2.4" stroke-width="0.79"/><path d="M9.5,-2.4 L9.5,2.4" stroke-width="0.79"/><path d="M10.799999999999999,-2.4 L10.799999999999999,2.4" stroke-width="0.79"/><path d="M12.1,-2.4 L12.1,2.4" stroke-width="0.79"/><path d="M13.399999999999999,-2.4 L13.399999999999999,2.4" stroke-width="0.79"/><path d="M14.7,-2.4 L14.7,2.4" stroke-width="0.79"/><path d="M16.0,-2.4 L16.0,2.4" stroke-width="0.79"/><path d="M17.299999999999997,-2.4 L17.299999999999997,2.4" stroke-width="0.79"/><path d="M18.6,-2.4 L18.6,2.4" stroke-width="0.79"/><path d="M19.9,-2.4 L19.9,2.4" stroke-width="0.79"/><path d="M21.2,-2.4 L21.2,2.4" stroke-width="0.79"/><path d="M0.8,-5.3 L6,-4.3 C8.4,-2.5 8.4,2.5 6,4.5 L0.8,5.3 Z" fill="#fff"/><ellipse cx="0" cy="0" rx="4.3" ry="5.3" fill="#fff" stroke-width="1.24"/><ellipse cx="-0.2" cy="0" rx="2.3" ry="2.9" fill="#fff" stroke-width="1.24"/></g>
<path d="M392,219.8 L403,220.6 L408.4,207.4 L423.5,208.5" stroke-width="1.13" />
<path d="M450,252.3 L460.8,252.6 L466.6,239 L480.5,239.6" stroke-width="1.13" />
<g transform="translate(507.3 411) rotate(13) skewX(-5.4)"><path d="M-1.65,0 L-1.65,154 M1.65,0 L1.65,154"/><path d="M-2.1,1.0 L2.1,0.0" stroke-width="1.02"/><path d="M-2.1,2.7 L2.1,1.7" stroke-width="1.02"/><path d="M-2.1,4.3999999999999995 L2.1,3.4" stroke-width="1.02"/><path d="M-2.1,6.1 L2.1,5.1" stroke-width="1.02"/><path d="M-2.1,7.8 L2.1,6.8" stroke-width="1.02"/><path d="M-2.1,9.5 L2.1,8.5" stroke-width="1.02"/><path d="M-2.1,11.2 L2.1,10.2" stroke-width="1.02"/></g>
<g transform="translate(458.4 559.6) rotate(13) skewX(-5.4)"><path d="M-3.4,0 L-3.4,3 L-6.2,3.6 L-6.2,7.6 L-4.8,8.6 L-4.8,20 L-5.4,20.6 L-5.4,25 A5.4,2.2 0 0 0 5.4,25 L5.4,20.6 L4.8,20 L4.8,8.6 L6.2,7.6 L6.2,3.6 L3.4,3 L3.4,0 Z" fill="#fff"/><ellipse cx="0" cy="0" rx="3.4" ry="1.4" stroke-width="1.13" fill="#fff"/><path d="M-6.2,3.4 A6.2,2.4 0 0 0 6.2,3.4" stroke-width="1.13"/><path d="M-6.2,7.6 A6.2,2.4 0 0 0 6.2,7.6" stroke-width="1.36"/><path d="M-4.8,12 A4.8,2 0 0 0 4.8,12" stroke-width="1.13"/><path d="M-4.8,16.5 A4.8,2 0 0 0 4.8,16.5" stroke-width="1.13"/><path d="M-5.4,20.4 A5.4,2.2 0 0 0 5.4,20.4" stroke-width="1.36"/><path d="M-6.2,3.6 A6.2,2.4 0 0 1 6.2,3.6" stroke-width="1.13"/></g>
<g transform="translate(451.2 586) rotate(13) skewX(-5.4)"><path d="M-1.7,0 L-1.7,52 M1.7,0 L1.7,52"/></g>
<g transform="translate(432.6 640) rotate(13) skewX(-5.4)"><path d="M-8,0 L-8,148 A8,3 0 0 0 8,148 L8,0" fill="#fff"/><ellipse display="none" cx="0" cy="0" rx="8" ry="3" stroke-width="1.13" fill="#fff"/></g>
<g transform="translate(433.5 637) rotate(13) skewX(-5.4)"><path d="M-9.9,0 L-9.9,2.2 A9.9,3.6 0 0 0 9.9,2.2 L9.9,0 Z" fill="#fff"/><ellipse cx="0" cy="0" rx="9.9" ry="3.6" stroke-width="1.13" fill="#fff"/><path d="M-1.7,-3 L-1.7,0.6 A1.7,0.7 0 0 0 1.7,0.6 L1.7,-3" fill="#fff"/></g>
<g transform="translate(449.9 791.3) rotate(20)"><ellipse cx="0" cy="0" rx="5.2" ry="2.0" stroke-width="1.47" fill="#fff"/><ellipse cx="0" cy="0" rx="3.0" ry="0.9" stroke-width="0.9" fill="none"/></g>
<g transform="translate(447.6 797.2) rotate(20)"><path d="M-2.4,0 L-2.4,9 L2.4,9 L2.4,0 Z" fill="#fff" stroke-width="0.9"/><path d="M-2.6,1.5 L2.6,0.7" stroke-width="1.02"/><path d="M-2.6,2.9 L2.6,2.1" stroke-width="1.02"/><path d="M-2.6,4.3 L2.6,3.5" stroke-width="1.02"/><path d="M-2.6,5.699999999999999 L2.6,4.8999999999999995" stroke-width="1.02"/><path d="M-2.6,7.1 L2.6,6.3" stroke-width="1.02"/><path d="M-2.6,8.5 L2.6,7.7" stroke-width="1.02"/><path d="M-4.6,9 L-4.6,12 A4.6,2.4 0 0 0 4.6,12 L4.6,9 Z" fill="#fff"/><ellipse cx="0" cy="9" rx="4.6" ry="2.4" stroke-width="1.13" fill="#fff"/></g>
<path d="M 123.22,669.52 L 109.93,686.47 L 107.43,693.11 L 104.11,702.25 L 103.61,709.73 L 105.77,713.05 L 97.46,734.66 L 96.63,741.3 L 99.12,743.8 L 113.25,749.11 L 120.73,749.11 L 127.37,744.63 L 134.85,741.3 L 142.33,742.63 C 145.65,742.13 147.81,737.98 148.97,731.33 C 149.81,726.35 148.97,720.53 145.65,720.53 L 153.13,701.42 C 159.78,701.42 164.43,697.27 163.43,691.45 C 163.1,688.96 161.44,688.13 160.61,686.47 C 163.1,676.5 168.08,666.53 175.56,656.89 C 181.38,655.73 181.71,648.25 178.05,646.59 L 176.72,646.59 C 177.72,641.6 177.22,636.62 174.73,634.96 C 171.41,633.29 168.08,634.96 167.75,638.28 L 168.91,644.93 C 161.44,654.06 151.47,662.37 144.82,665.7 L 143.16,669.85 Z" stroke-width="0" fill="#fff"/>
<path d="M 123.22,669.85 C 127.37,673.17 134.85,675.67 142.83,676.16" stroke-width="1.74" fill="none"/>
<path d="M 124.22,671.51 C 128.2,674.5 134.85,677.0 142.16,677.49" stroke-width="0.87" fill="none"/>
<path d="M 115.74,654.06 C 115.74,649.91 120.73,648.25 124.88,650.74 C 127.37,652.4 127.37,655.73 126.21,658.22 L 122.39,675.67 L 124.22,679.16 L 121.89,691.45 L 114.25,693.45 L 109.09,683.48 L 109.93,678.16 Z" stroke-width="1.24" fill="#fff"/>
<path d="M 118.73,655.23 L 112.42,677.83 L 111.59,683.14" stroke-width="0.99" fill="none"/>
<path d="M 116.41,656.56 L 118.9,655.23" stroke-width="1.55" fill="none"/>
<path d="M 115.69,658.97 L 118.19,657.64" stroke-width="1.55" fill="none"/>
<path d="M 114.98,661.38 L 117.47,660.05" stroke-width="1.55" fill="none"/>
<path d="M 114.27,663.79 L 116.76,662.46" stroke-width="1.55" fill="none"/>
<path d="M 113.55,666.19 L 116.05,664.87" stroke-width="1.55" fill="none"/>
<path d="M 112.84,668.6 L 115.33,667.27" stroke-width="1.55" fill="none"/>
<path d="M 112.13,671.01 L 114.62,669.68" stroke-width="1.55" fill="none"/>
<path d="M 111.41,673.42 L 113.91,672.09" stroke-width="1.55" fill="none"/>
<path d="M 110.7,675.83 L 113.19,674.5" stroke-width="1.55" fill="none"/>
<path d="M 109.99,678.24 L 112.48,676.91" stroke-width="1.55" fill="none"/>
<ellipse cx="124.38" cy="655.23" rx="1.33" ry="1.5" transform="rotate(0 124.38 655.23)" stroke-width="1.24" fill="#fff"/>
<ellipse cx="117.9" cy="681.81" rx="1.0" ry="1.16" transform="rotate(0 117.9 681.81)" stroke-width="1.24" fill="#fff"/>
<path d="M 109.93,678.16 C 107.93,678.99 107.6,682.31 109.26,683.81" stroke-width="1.12" fill="none"/>
<path d="M 109.93,686.47 L 107.43,693.11 C 112.42,697.27 119.06,699.43 125.71,699.43" stroke-width="1.24" fill="none"/>
<path d="M 108.26,698.1 C 113.25,702.25 119.9,703.91 124.88,703.91" stroke-width="0.99" fill="none"/>
<path d="M 107.43,693.11 L 104.11,702.25 C 109.93,707.24 116.57,709.73 124.05,709.73" stroke-width="1.24" fill="none"/>
<path d="M 104.11,702.25 L 103.61,709.73 L 106.6,713.05 C 111.59,716.38 118.23,718.04 123.22,717.21 L 126.54,712.22 L 133.19,708.9 L 134.85,704.75" stroke-width="1.24" fill="none"/>
<path d="M 103.78,705.58 C 109.59,710.56 116.57,713.05 124.22,712.72" stroke-width="0.87" fill="none"/>
<path d="M 105.77,713.05 L 97.46,734.66 L 96.63,741.3 L 99.12,743.8 L 113.25,749.11 L 120.73,749.11 L 127.37,744.63" stroke-width="1.24" fill="none"/>
<path d="M 109.93,715.55 L 102.45,734.66 L 112.42,730.5" stroke-width="1.12" fill="none"/>
<path d="M 96.63,741.3 L 102.45,734.66 M 99.12,743.8 L 100.79,738.81 M 104.94,745.79 L 106.27,740.97 M 109.93,747.62 L 110.92,743.3" stroke-width="0.99" fill="none"/>
<ellipse cx="119.06" cy="738.81" rx="7.31" ry="8.64" transform="rotate(20 119.06 738.81)" stroke-width="1.24" fill="#fff"/>
<ellipse cx="119.56" cy="738.98" rx="3.82" ry="5.15" transform="rotate(20 119.56 738.98)" stroke-width="1.49" fill="#fff"/>
<path d="M 112.42,730.5 C 115.74,728.01 122.39,728.01 127.37,731.67" stroke-width="1.24" fill="none"/>
<path d="M 124.88,717.71 L 124.05,729.67 M 133.19,708.9 L 142.33,719.7 L 136.51,726.35 L 127.37,734.66 L 127.37,744.63" stroke-width="1.24" fill="none"/>
<path d="M 123.22,717.21 L 112.42,730.5" stroke-width="0.99" fill="none"/>
<path d="M 136.51,726.35 L 145.65,720.53 C 148.97,720.53 149.81,726.35 148.97,731.33 C 147.81,737.98 145.65,742.13 142.33,742.63 L 134.85,741.3 L 127.37,744.63" stroke-width="1.24" fill="#fff"/>
<path d="M 135.68,726.68 L 135.35,741.3 M 137.51,725.68 L 137.18,741.64" stroke-width="0.99" fill="none"/>
<ellipse cx="143.16" cy="728.01" rx="2.16" ry="2.82" transform="rotate(10 143.16 728.01)" stroke-width="1.24" fill="#fff"/>
<ellipse cx="142.83" cy="734.66" rx="1.33" ry="1.5" transform="rotate(0 142.83 734.66)" stroke-width="1.24" fill="#fff"/>
<path d="M 143.16,669.85 L 144.82,665.7 C 151.47,662.37 161.44,654.06 168.91,644.93 L 167.75,638.28 C 168.08,634.96 171.41,633.29 174.73,634.96 C 177.22,636.62 177.72,641.6 176.72,646.59" stroke-width="1.24" fill="none"/>
<ellipse cx="173.9" cy="640.77" rx="1.33" ry="2.16" transform="rotate(15 173.9 640.77)" stroke-width="1.24" fill="#fff"/>
<ellipse cx="176.06" cy="651.9" rx="4.49" ry="4.49" transform="rotate(0 176.06 651.9)" stroke-width="1.24" fill="#fff"/>
<ellipse cx="176.23" cy="652.07" rx="2.16" ry="2.33" transform="rotate(0 176.23 652.07)" stroke-width="1.49" fill="#fff"/>
<path d="M 144.16,669.85 L 153.46,664.87" stroke-width="1.86" fill="none"/>
<path d="M 145.82,670.85 C 153.13,667.36 160.61,660.71 167.25,652.4" stroke-width="0.99" fill="none"/>
<path d="M 143.16,676.5 L 151.47,677.33 C 158.11,673.17 166.42,663.2 171.74,654.06" stroke-width="1.24" fill="none"/>
<path d="M 151.47,677.33 L 153.13,686.13" stroke-width="1.12" fill="none"/>
<path d="M 173.9,656.56 C 168.08,666.53 163.1,676.5 160.61,686.8" stroke-width="1.24" fill="none"/>
<path d="M 171.41,655.56 C 164.76,664.87 158.11,676.5 156.12,681.81" stroke-width="0.99" fill="none"/>
<path d="M 178.05,656.22 C 171.41,666.53 166.42,676.5 163.1,686.8" stroke-width="0.87" fill="none"/>
<ellipse cx="157.78" cy="693.94" rx="5.82" ry="5.98" transform="rotate(0 157.78 693.94)" stroke-width="1.24" fill="#fff"/>
<ellipse cx="157.95" cy="694.11" rx="3.16" ry="3.32" transform="rotate(0 157.95 694.11)" stroke-width="1.37" fill="#fff"/>
<ellipse cx="158.11" cy="694.28" rx="1.5" ry="1.66" transform="rotate(0 158.11 694.28)" stroke-width="1.24" fill="#fff"/>
<path d="M 153.13,698.93 L 148.14,706.41 L 142.33,719.7 M 155.62,700.59 L 150.64,708.07 L 145.65,720.53" stroke-width="1.12" fill="none"/>
<path d="M 135.68,683.97 L 149.81,683.97 L 147.31,698.1 L 134.85,704.75" stroke-width="1.24" fill="none"/>
<path d="M 140.67,683.97 L 138.51,703.08" stroke-width="0.99" fill="none"/>
<path d="M 143.16,669.85 L 138.51,683.97 L 133.19,708.9" stroke-width="1.12" fill="none"/>
<ellipse cx="133.52" cy="696.77" rx="1.83" ry="2.66" transform="rotate(15 133.52 696.77)" stroke-width="1.24" fill="#222"/>
<path d="M 489.98,707.73 L 504.12,665.44 C 505.09,663.87 507.87,664.23 507.51,666.28 L 506.3,671.48 L 497.84,694.44 Z" stroke-width="1.24" fill="#fff"/>
<path d="M 505.69,667.49 L 502.67,676.31 L 491.8,703.75" stroke-width="0.99" fill="none"/>
<path d="M 455.98,731.48 L 452.96,739.94 L 451.75,744.77 L 452.36,750.21 L 451.75,755.05 C 444.5,756.25 439.06,763.5 440.27,770.76 C 440.88,774.38 443.29,776.8 445.11,777.4 L 444.5,780.42 L 450.54,783.44 L 455.98,784.65 L 462.63,782.84 C 468.67,780.42 471.09,774.38 469.27,768.34 L 473.5,756.25 L 477.73,755.29 L 480.15,751.42 L 481.36,746.59 L 483.17,735.71 Z" stroke-width="0" fill="#fff"/>
<path d="M 465.21,704.47 L 456.15,731.3 L 453.13,739.76 L 451.92,744.59 L 452.52,750.03 L 477.9,755.47 L 480.32,751.24 L 481.53,746.4 L 482.73,736.13 L 490.59,711.72 C 480.92,713.17 470.05,708.34 465.21,704.47 Z" stroke-width="0" fill="#fff"/>
<path d="M 465.21,704.47 L 456.15,731.3 M 490.59,711.72 L 482.73,736.13" stroke-width="1.24" fill="none"/>
<path d="M 465.21,704.23 C 470.05,708.34 480.92,713.17 490.59,711.48" stroke-width="1.99" fill="none"/>
<path d="M 465.45,705.92 C 470.29,710.03 480.68,714.62 490.11,713.17" stroke-width="0.87" fill="none"/>
<path d="M 465.82,716.19 L 468.23,715.59 M 466.66,717.04 L 467.87,716.56" stroke-width="0.99" fill="none"/>
<path d="M 456.15,731.3 C 461.59,734.92 473.67,737.95 482.73,736.13" stroke-width="1.24" fill="none"/>
<path d="M 455.54,732.99 C 460.98,736.62 473.19,739.64 482.49,737.95" stroke-width="0.87" fill="none"/>
<path d="M 456.15,731.3 L 453.13,739.76 C 459.17,744.59 471.25,747.61 481.53,746.4 L 482.73,736.13" stroke-width="1.24" fill="none"/>
<path d="M 453.13,739.76 L 451.92,744.59 C 457.36,749.43 470.05,752.45 480.32,751.24 L 481.53,746.4" stroke-width="1.24" fill="none"/>
<path d="M 452.76,741.69 C 458.56,746.53 470.77,749.55 481.04,748.34" stroke-width="1.49" fill="none"/>
<path d="M 452.36,749.61 C 457.79,753.84 468.67,756.25 477.73,755.29 L 480.15,751.42" stroke-width="1.24" fill="none"/>
<path d="M 451.75,744.77 L 452.36,749.61" stroke-width="1.24" fill="none"/>
<path d="M 452.96,750.45 L 448.13,769.55 M 455.98,753.23 L 452.36,768.34 M 460.21,755.05 L 457.19,763.5 M 466.25,756.25 L 464.44,765.92 M 473.5,756.25 L 468.91,768.34" stroke-width="1.12" fill="none"/>
<path d="M 451.75,755.05 C 444.5,756.25 439.06,763.5 440.27,770.76 C 440.88,774.38 443.29,776.8 445.11,777.4 L 444.5,780.42 L 450.54,783.44 L 455.98,784.65 L 462.63,782.84" stroke-width="1.24" fill="none"/>
<ellipse cx="448.13" cy="760.48" rx="1.69" ry="3.63" transform="rotate(25 448.13 760.48)" stroke-width="0.99" fill="none"/>
<path d="M 445.11,777.4 L 451.15,780.06 L 450.54,783.44 M 451.15,780.06 L 452.96,774.38" stroke-width="0.99" fill="none"/>
<ellipse cx="461.66" cy="773.17" rx="7.49" ry="8.94" transform="rotate(25 461.66 773.17)" stroke-width="1.24" fill="#fff"/>
<ellipse cx="461.78" cy="773.29" rx="5.92" ry="7.37" transform="rotate(25 461.78 773.29)" stroke-width="1.62" fill="#fff"/>
<ellipse cx="461.9" cy="773.17" rx="3.38" ry="5.08" transform="rotate(25 461.9 773.17)" stroke-width="1.37" fill="#fff"/>
<path d="M 453.73,686.83 L 447.08,713.17 L 447.81,715.83 L 458.56,726.47 L 464.73,727.67 L 467.87,720.42 L 457.96,710.76 L 463.52,689.61 Z" stroke-width="1.24" fill="#fff"/>
<path d="M 452.89,688.76 L 455.79,687.31" stroke-width="1.49" fill="none"/>
<path d="M 452.31,691.06 L 455.21,689.61" stroke-width="1.49" fill="none"/>
<path d="M 451.73,693.35 L 454.63,691.9" stroke-width="1.49" fill="none"/>
<path d="M 451.15,695.65 L 454.05,694.2" stroke-width="1.49" fill="none"/>
<path d="M 450.57,697.95 L 453.47,696.5" stroke-width="1.49" fill="none"/>
<path d="M 449.99,700.24 L 452.89,698.79" stroke-width="1.49" fill="none"/>
<path d="M 449.41,702.54 L 452.31,701.09" stroke-width="1.49" fill="none"/>
<path d="M 448.83,704.83 L 451.74,703.38" stroke-width="1.49" fill="none"/>
<path d="M 448.26,707.13 L 451.16,705.68" stroke-width="1.49" fill="none"/>
<path d="M 447.68,709.43 L 450.58,707.98" stroke-width="1.49" fill="none"/>
<path d="M 447.1,711.72 L 450.0,710.27" stroke-width="1.49" fill="none"/>
<path d="M 456.27,690.21 L 450.23,713.17" stroke-width="0.99" fill="none"/>
<path d="M 456.15,716.19 L 466.66,725.86 M 459.17,713.17 L 468.23,722.84 M 450.71,716.8 L 460.98,726.71" stroke-width="1.12" fill="none"/>
<ellipse cx="458.56" cy="685.98" rx="5.08" ry="5.08" transform="rotate(0 458.56 685.98)" stroke-width="1.24" fill="#fff"/>
<ellipse cx="460.98" cy="687.55" rx="2.05" ry="2.18" transform="rotate(0 460.98 687.55)" stroke-width="1.62" fill="#fff"/>
<ellipse cx="454.34" cy="713.78" rx="4.23" ry="4.23" transform="rotate(0 454.34 713.78)" stroke-width="1.24" fill="#fff"/>
<ellipse cx="454.7" cy="714.02" rx="1.81" ry="1.93" transform="rotate(0 454.7 714.02)" stroke-width="1.62" fill="#fff"/>
<text transform="translate(110 178.45) scale(1.15 1)" font-size="12.8" text-anchor="middle" class="t" letter-spacing="0.35">1</text>
<path d="M116,175 L137.5,182.5" stroke-width="1.13" />
<text transform="translate(128.5 324.45) scale(1.15 1)" font-size="12.8" text-anchor="middle" class="t" letter-spacing="0.35">2</text>
<path d="M136,322.5 L154,329" stroke-width="1.13" />
<text transform="translate(145.75 411.2) scale(1.15 1)" font-size="12.8" text-anchor="middle" class="t" letter-spacing="0.35">3</text>
<path d="M154.5,408 L162,410.5" stroke-width="1.13" />
<text transform="translate(258.9 195.95) scale(1.15 1)" font-size="12.8" text-anchor="middle" class="t" letter-spacing="0.35">4</text>
<path d="M238.75,189 L252.5,190" stroke-width="1.13" />
<path d="M268.7,190.5 L288.4,191.5" stroke-width="1.13" />
<text transform="translate(271.7 157.25) scale(1.15 1)" font-size="12.8" text-anchor="middle" class="t" letter-spacing="0.35">5</text>
<path d="M250,154.5 L265,153.5" stroke-width="1.13" />
<path d="M282,152.6 L301,151.7" stroke-width="1.13" />
<text transform="translate(231.75 270.7) scale(1.15 1)" font-size="12.8" text-anchor="middle" class="t" letter-spacing="0.35">6</text>
<path d="M212.5,265 L225,266" stroke-width="1.13" />
<path d="M240.75,267.5 L258.75,269.25" stroke-width="1.13" />
<text transform="translate(276.6 136.95) scale(1.15 1)" font-size="12.8" text-anchor="middle" class="t" letter-spacing="0.35">7</text>
<path d="M287.5,133 L301,135" stroke-width="1.13" />
<text transform="translate(219.5 684.45) scale(1.15 1)" font-size="12.8" text-anchor="middle" class="t" letter-spacing="0.35">8</text>
<path d="M227,681.25 L242,681.25" stroke-width="1.13" />
<text transform="translate(226.25 666.95) scale(1.15 1)" font-size="12.8" text-anchor="middle" class="t" letter-spacing="0.35">9</text>
<path d="M233.75,663 L251.25,666.25" stroke-width="1.13" />
<text transform="translate(230 646.45) scale(1.15 1)" font-size="12.8" text-anchor="middle" class="t" letter-spacing="0.35">10</text>
<path d="M239.5,645 L255.5,650" stroke-width="1.13" />
<text transform="translate(235 625.2) scale(1.15 1)" font-size="12.8" text-anchor="middle" class="t" letter-spacing="0.35">11</text>
<path d="M245,625.5 L262,636.25" stroke-width="1.13" />
<text transform="translate(243.75 605.7) scale(1.15 1)" font-size="12.8" text-anchor="middle" class="t" letter-spacing="0.35">12</text>
<path d="M252.5,606.25 L268.75,621.25" stroke-width="1.13" />
<text transform="translate(287.5 98.2) scale(1.15 1)" font-size="12.8" text-anchor="middle" class="t" letter-spacing="0.35">13</text>
<path d="M295,100 L308,107.5" stroke-width="1.13" />
<text transform="translate(289.5 461.45) scale(1.15 1)" font-size="12.8" text-anchor="middle" class="t" letter-spacing="0.35">14</text>
<path d="M300,459.5 L314.5,465" stroke-width="1.13" />
<text transform="translate(337.5 325.7) scale(1.15 1)" font-size="12.8" text-anchor="middle" class="t" letter-spacing="0.35">15</text>
<path d="M348,321.75 L373.75,322.5" stroke-width="1.13" />
<text transform="translate(342.5 304.95) scale(1.15 1)" font-size="12.8" text-anchor="middle" class="t" letter-spacing="0.35">16</text>
<path d="M353.75,303 L376.25,308.75" stroke-width="1.13" />
<text transform="translate(357.5 265.2) scale(1.15 1)" font-size="12.8" text-anchor="middle" class="t" letter-spacing="0.35">17</text>
<path d="M367,263.75 L383.75,270" stroke-width="1.13" />
<text transform="translate(349.5 286.45) scale(1.15 1)" font-size="12.8" text-anchor="middle" class="t" letter-spacing="0.35">18</text>
<path d="M359.5,285.75 L376.25,289.5" stroke-width="1.13" />
<text transform="translate(583 711.45) scale(1.15 1)" font-size="12.8" text-anchor="middle" class="t" letter-spacing="0.35">19</text>
<path d="M551.25,696.25 L572.5,703.75" stroke-width="1.13" />
<text transform="translate(555.8 614.95) scale(1.15 1)" font-size="12.8" text-anchor="middle" class="t" letter-spacing="0.35">20</text>
<path d="M525.9,599.6 L545.3,606.3" stroke-width="1.13" />
<text transform="translate(269.5 813.45) scale(1.15 1)" font-size="12.8" text-anchor="middle" class="t" letter-spacing="0.35">21</text>
<path d="M280,810.5 L301.25,810.5" stroke-width="1.13" />
<text transform="translate(277 792.95) scale(1.15 1)" font-size="12.8" text-anchor="middle" class="t" letter-spacing="0.35">22</text>
<path d="M287,790.5 L307.5,792.25" stroke-width="1.13" />
<text transform="translate(284.5 771.7) scale(1.15 1)" font-size="12.8" text-anchor="middle" class="t" letter-spacing="0.35">23</text>
<path d="M293.75,771.5 L313.75,776" stroke-width="1.13" />
<text transform="translate(291.25 750.45) scale(1.15 1)" font-size="12.8" text-anchor="middle" class="t" letter-spacing="0.35">24</text>
<path d="M300.5,751.5 L318.75,762.25" stroke-width="1.13" />
<text transform="translate(298.25 729.95) scale(1.15 1)" font-size="12.8" text-anchor="middle" class="t" letter-spacing="0.35">25</text>
<path d="M307.5,731 L326.25,746" stroke-width="1.13" />
<text transform="translate(591.2 457.85) scale(1.15 1)" font-size="12.8" text-anchor="middle" class="t" letter-spacing="0.35">26</text>
<path d="M578.4,434.5 L586.6,445.5" stroke-width="1.13" />
<text transform="translate(366.75 528.2) scale(1.15 1)" font-size="12.8" text-anchor="middle" class="t" letter-spacing="0.35">27</text>
<path d="M375.75,528.75 L391.25,538.25" stroke-width="1.13" />
<text transform="translate(460.2 618.45) scale(1.15 1)" font-size="12.8" text-anchor="middle" class="t" letter-spacing="0.35">28</text>
<path d="M450.1,592.7 L457.4,605.3" stroke-width="1.13" />
<text transform="translate(488.3 816.15) scale(1.15 1)" font-size="12.8" text-anchor="middle" class="t" letter-spacing="0.35">29</text>
<path d="M455,792.6 L478.9,806.4" stroke-width="1.13" />
<text transform="translate(481 836.45) scale(1.15 1)" font-size="12.8" text-anchor="middle" class="t" letter-spacing="0.35">30</text>
<path d="M448.6,810.4 L473.75,827.5" stroke-width="1.13" />
<text transform="translate(582 301.45) scale(1.15 1)" font-size="12.8" text-anchor="middle" class="t" letter-spacing="0.35">31</text>
<path d="M562.5,277.5 L575,290.5" stroke-width="1.13" />
<text transform="translate(394.5 439.95) scale(1.15 1)" font-size="12.8" text-anchor="middle" class="t" letter-spacing="0.35">32</text>
<path d="M403.75,440 L427.5,453.75" stroke-width="1.13" />
<text transform="translate(413.75 381.95) scale(1.15 1)" font-size="12.8" text-anchor="middle" class="t" letter-spacing="0.35">33</text>
<path d="M425,381.25 L447.5,396.25" stroke-width="1.13" />
<text transform="translate(424.5 349.45) scale(1.15 1)" font-size="12.8" text-anchor="middle" class="t" letter-spacing="0.35">34</text>
<path d="M437,345.5 L465.5,348" stroke-width="1.13" />
<text transform="translate(435 315.7) scale(1.15 1)" font-size="12.8" text-anchor="middle" class="t" letter-spacing="0.35">35</text>
<path d="M447.5,313 L466.25,319.25" stroke-width="1.13" />
<text transform="translate(430 332.45) scale(1.15 1)" font-size="12.8" text-anchor="middle" class="t" letter-spacing="0.35">36</text>
<path d="M441.25,329.25 L460.75,335" stroke-width="1.13" />
<text transform="translate(571.75 155.7) scale(1.15 1)" font-size="12.8" text-anchor="middle" class="t" letter-spacing="0.35">37</text>
<path d="M542.5,155.75 L558.75,152" stroke-width="1.13" />
<text transform="translate(451.25 156.2) scale(1.15 1)" font-size="12.8" text-anchor="middle" class="t" letter-spacing="0.35">38</text>
<path d="M462,153.25 L485.5,165.75" stroke-width="1.13" />
<text transform="translate(472.5 95.2) scale(1.15 1)" font-size="12.8" text-anchor="middle" class="t" letter-spacing="0.35">39</text>
<path d="M484.5,90.75 L503.75,92" stroke-width="1.13" />
<text transform="translate(477 76.45) scale(1.15 1)" font-size="12.8" text-anchor="middle" class="t" letter-spacing="0.35">40</text>
<path d="M487.5,73 L510,75" stroke-width="1.13" />
<text transform="translate(382.3 242.25) scale(1.15 1)" font-size="12.8" text-anchor="middle" class="t" letter-spacing="0.35">41</text>
<path d="M382.3,221.9 L382.3,231.7" stroke-width="1.13" />
<text transform="translate(442.5 274.45) scale(1.15 1)" font-size="12.8" text-anchor="middle" class="t" letter-spacing="0.35">41</text>
<path d="M442.7,254.5 L442.7,263.3" stroke-width="1.13" />
<path d="M 45.78,827.12 L 57.11,805.97 L 60.5,808.24 L 84.3,795.4 L 87.69,796.91 L 87.69,814.66 L 62.02,829.39 L 61.49,835.05 Z" stroke-width="1.69" fill="#fff"/>
<path d="M 49.18,828.4 L 58.99,807.63 L 60.88,810.13 L 85.43,797.66 L 87.69,796.91" stroke-width="1.36" fill="none"/>
<path d="M 45.78,827.12 L 49.18,828.4 M 57.11,805.97 L 58.99,807.63 M 85.43,797.66 L 84.3,795.4" stroke-width="1.02" fill="none"/>
<path d="M 87.32,796.98 L 87.32,814.66" stroke-width="1.81" fill="none"/>
<text transform="matrix(0.70 -0.33 -0.19 1.0 61.5 825.3)" font-size="15.5" font-weight="bold" class="t" style="stroke:#111;stroke-width:1.25px;stroke-linejoin:round">FWD</text>
<text x="44.2" y="855.6" font-size="14" class="t">B9T1460-V220</text>
</g>
</svg></body></html>
